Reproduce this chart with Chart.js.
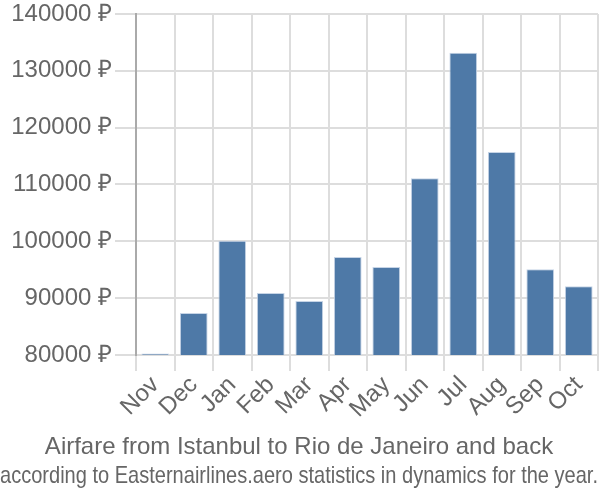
<!DOCTYPE html>
<html><head><meta charset="utf-8">
<script src="https://cdn.jsdelivr.net/npm/chart.js@4/dist/chart.umd.min.js"></script>
<style>html,body{margin:0;padding:0;background:#fff}#w{width:600px;height:500px}</style>
</head><body><div id="w"><canvas id="c"></canvas></div>
<script>
const categories = ["Nov","Dec","Jan","Feb","Mar","Apr","May","Jun","Jul","Aug","Sep","Oct"];
const prices = [80250, 87400, 100100, 90900, 89500, 97250, 95500, 111100, 133200, 115700, 95100, 92100];
const yTicks = [80000, 90000, 100000, 110000, 120000, 130000, 140000];
const titleText = "Airfare from Istanbul to Rio de Janeiro and back";
const subtitleText = "according to Easternairlines.aero statistics in dynamics for the year.";

new Chart(document.getElementById('c'), {
  type: 'bar',
  data: { labels: categories, datasets: [{ data: prices, backgroundColor: '#4e79a7', borderColor: '#c6d4e6', borderWidth: 1 }] },
  options: {
    responsive: true, maintainAspectRatio: false, animation: false,
    layout: { padding: { left: 0, right: 2, top: 0, bottom: 0 } },
    plugins: {
      legend: { display: false }, tooltip: { enabled: false },
      title: { display: true, text: titleText, position: 'bottom', weight: 1500, color: '#666', font: { family: "'Liberation Sans', Arial", size: 24, weight: 'normal' }, padding: { top: 10, bottom: 0 } },
      subtitle: { display: true, text: subtitleText, position: 'bottom', weight: 2500, color: '#666', font: { family: "'Liberation Sans', Arial", size: 24 }, padding: { top: 0, bottom: 9 } }
    },
    scales: {
      x: {
        grid: { color: '#dddddd', lineWidth: 2, tickLength: 16, offset: true },
        border: { color: '#dddddd' },
        ticks: { color: '#666', font: { family: "'Liberation Sans', Arial", size: 24 }, maxRotation: 45, minRotation: 45, padding: 0, autoSkip: false }
      },
      y: {
        min: 80000, max: 140000,
        afterBuildTicks: (s) => { s.ticks = yTicks.map(v => ({ value: v })); },
        afterFit: (s) => { s.width = 136; s.paddingTop = 14; s.paddingBottom = 0; },
        grid: { color: '#dddddd', lineWidth: 2, tickLength: 21 },
        border: { color: '#aaaaaa', width: 2 },
        ticks: { color: '#666', font: { family: "'Liberation Sans', Arial", size: 24 }, padding: 3, callback: v => v + ' ₽' }
      }
    }
  }
});
</script></body></html>
